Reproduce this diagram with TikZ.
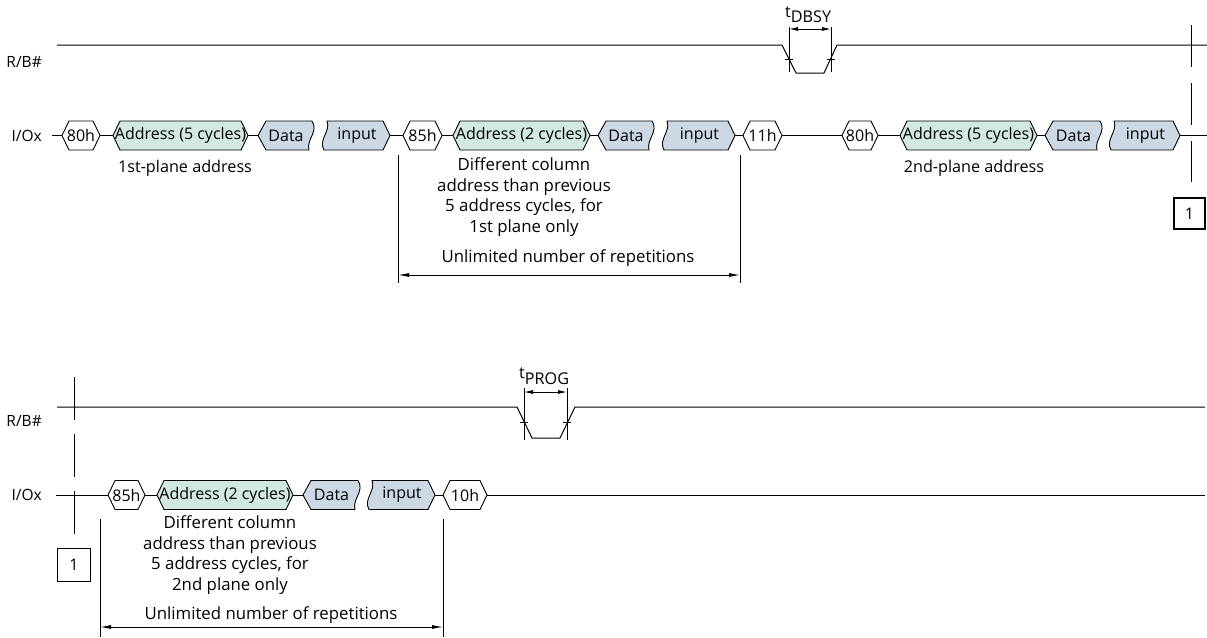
\documentclass[tikz,border=0pt]{standalone}
\usepackage{fontspec}
\setmainfont{Open Sans}
\usetikzlibrary{arrows.meta}
\definecolor{addrfill}{HTML}{D2E8E3}
\definecolor{datafill}{HTML}{CCD8E4}
\tikzset{
  sig/.style={line width=1pt, line join=round},
  shp/.style={draw, line width=0.9pt, line join=round},
  txt/.style={font=\fontsize{16.2}{19}\selectfont, inner sep=0pt},
  sidetxt/.style={font=\fontsize{15.5}{18}\selectfont, inner sep=0pt},
  htxt/.style={font=\fontsize{16}{18}\selectfont, inner sep=0pt},
  note/.style={font=\fontsize{16.8}{20.6}\selectfont, inner sep=0pt, align=center},
  dim/.style={line width=0.9pt, {Latex[length=11pt,width=4pt]}-{Latex[length=11pt,width=4pt]}},
  thin/.style={line width=0.9pt},
  numbox/.style={draw, line width=1.5pt, minimum width=31pt, minimum height=31pt, inner sep=0pt, font=\fontsize{16}{18}\selectfont},
}
% hexagon: name, xl, xr, yc, fill, text
\newcommand\HexBox[6]{%
  \path[shp, fill=#5] (#2,#4) -- (#2+7,#4-14.5) -- (#3-7,#4-14.5) -- (#3,#4) -- (#3-7,#4+14.5) -- (#2+7,#4+14.5) -- cycle;
  \coordinate (#1-w) at (#2,#4);
  \coordinate (#1-e) at (#3,#4);
  \node[htxt] (#1) at ({(#2+#3)/2},#4) {#6};
}
% data box (wavy right edge): name, xl, xr, yc
\newcommand\DataBox[4]{%
  \path[shp, fill=datafill] (#2,#4) -- (#2+8,#4-14.5) -- (#3,#4-14.5) .. controls (#3+7,#4-4) and (#3-6,#4+4) .. (#3-3,#4+14.5) -- (#2+8,#4+14.5) -- cycle;
  \coordinate (#1-w) at (#2,#4);
  \node[htxt] (#1) at ({(#2+#3)/2+1},#4) {Data};
}
% input box (wavy left edge): name, xl, xr, yc
\newcommand\InputBox[4]{%
  \path[shp, fill=datafill] (#2+3,#4-14.5) -- (#3-7,#4-14.5) -- (#3,#4) -- (#3-7,#4+14.5) -- (#2,#4+14.5) .. controls (#2-6,#4+4) and (#2+7,#4-4) .. (#2+3,#4-14.5) -- cycle;
  \coordinate (#1-e) at (#3,#4);
  \node[htxt] (#1) at ({(#2+#3)/2},#4) {input};
}
\begin{document}
\begin{tikzpicture}[x=1pt,y=-1pt]
\useasboundingbox (0,0) rectangle (1207,637);

%================ TOP ================
\node[sidetxt, anchor=east] (rb1) at (42,62) {R/B\#};
\node[sidetxt, anchor=east] (io1) at (42,135.5) {I/Ox};

% R/B# waveform
\coordinate (rbs1) at (57,45);
\coordinate (rbe1) at (1207,45);
\draw[sig] (rbs1) -- (782,45) -- (796,73) -- (824,73) -- (837,45) -- (rbe1);
% tDBSY markers
\draw[thin] (789,27) -- (789,72);
\draw[thin] (831,27) -- (831,72);
\draw[thin] (785,59) -- (793,59);
\draw[thin] (827,59) -- (835,59);
\coordinate (tda) at (789,29);
\coordinate (tdb) at (831,29);
\draw[line width=0.9pt, {Latex[length=9pt,width=4pt]}-{Latex[length=9pt,width=4pt]}] (tda) -- (tdb);
\node[txt, anchor=base west] (tdbsy) at (785,17) {t\raisebox{-5pt}{DBSY}};

% I/Ox boxes
\HexBox{a80}{62}{100}{135.5}{white}{80h}
\HexBox{ad5}{113}{248}{135.5}{addrfill}{Address (5 cycles)}
\DataBox{d1}{258}{312}{135.5}
\InputBox{i1}{324}{390}{135.5}
\HexBox{a85}{403}{442}{135.5}{white}{85h}
\HexBox{ad2}{453}{590}{135.5}{addrfill}{Address (2 cycles)}
\DataBox{d2}{598}{652}{135.5}
\InputBox{i2}{664}{735}{135.5}
\HexBox{a11}{743}{782}{135.5}{white}{11h}
\HexBox{b80}{842}{878}{135.5}{white}{80h}
\HexBox{bd5}{900}{1037}{135.5}{addrfill}{Address (5 cycles)}
\DataBox{d3}{1045}{1100}{135.5}
\InputBox{i3}{1111}{1180}{135.5}
\coordinate (ios1) at (52,135.5);
\coordinate (ioe1) at (1207,135.5);
\draw[sig] (ios1) -- (a80-w);
\draw[sig] (a80-e) -- (ad5-w);
\draw[sig] (ad5-e) -- (d1-w);
\draw[sig] (i1-e) -- (a85-w);
\draw[sig] (a85-e) -- (ad2-w);
\draw[sig] (ad2-e) -- (d2-w);
\draw[sig] (i2-e) -- (a11-w);
\draw[sig] (a11-e) -- (b80-w);
\draw[sig] (b80-e) -- (bd5-w);
\draw[sig] (bd5-e) -- (d3-w);
\draw[sig] (i3-e) -- (ioe1);

\node[txt] (pl1) at (185,168) {1st-plane address};
\node[txt] (pl2) at (974,168) {2nd-plane address};

% repetition bracket
\coordinate (v1t) at (398,155);
\coordinate (v1b) at (398,283);
\coordinate (v2t) at (740,155);
\coordinate (v2b) at (740,283);
\draw[thin] (v1t) -- (v1b);
\draw[thin] (v2t) -- (v2b);
\coordinate (r1a) at (398,275);
\coordinate (r1b) at (740,275);
\draw[dim] (r1a) -- (r1b);
\node[note] (n1) at (524,197) {Different column\\address than previous\\5 address cycles, for\\1st plane only};
\node[note] (u1) at (568,258) {Unlimited number of repetitions};

% continuation marker
\coordinate (c1t) at (1191,25);
\coordinate (c1b) at (1191,182);
\draw[thin, dash pattern=on 42pt off 16pt] (c1t) -- (c1b);
\node[numbox] (box1) at (1189.5,213.5) {1};

%================ BOTTOM ================
\node[sidetxt, anchor=east] (rb2) at (42,421) {R/B\#};
\node[sidetxt, anchor=east] (io2) at (42,495) {I/Ox};

\coordinate (rbs2) at (57,407);
\coordinate (rbe2) at (1205,407);
\draw[sig] (rbs2) -- (517,407) -- (532,438) -- (560,438) -- (575,407) -- (rbe2);
\draw[thin] (524,388) -- (524,440);
\draw[thin] (567,388) -- (567,440);
\draw[thin] (520,422) -- (528,422);
\draw[thin] (563,422) -- (571,422);
\coordinate (tpa) at (524,392);
\coordinate (tpb) at (567,392);
\draw[line width=0.9pt, {Latex[length=9pt,width=4pt]}-{Latex[length=9pt,width=4pt]}] (tpa) -- (tpb);
\node[txt, anchor=base west] (tprog) at (519,378) {t\raisebox{-6pt}{PROG}};

\HexBox{c85}{108}{145}{495}{white}{85h}
\HexBox{cd2}{157}{293}{495}{addrfill}{Address (2 cycles)}
\DataBox{d4}{303}{358}{495}
\InputBox{i4}{369}{435}{495}
\HexBox{c10}{443}{487}{495}{white}{10h}
\coordinate (ios2) at (56,495);
\coordinate (ioe2) at (1205,495);
\draw[sig] (ios2) -- (c85-w);
\draw[sig] (c85-e) -- (cd2-w);
\draw[sig] (cd2-e) -- (d4-w);
\draw[sig] (i4-e) -- (c10-w);
\draw[sig] (c10-e) -- (ioe2);

\coordinate (c2t) at (74,377);
\coordinate (c2b) at (74,535);
\draw[thin, dash pattern=on 43pt off 14pt] (c2t) -- (c2b);
\node[numbox, minimum width=33pt, minimum height=33pt] (box2) at (74,565) {1};

\coordinate (w1t) at (100,519);
\coordinate (w1b) at (100,637);
\coordinate (w2t) at (443,519);
\coordinate (w2b) at (443,637);
\draw[thin] (w1t) -- (w1b);
\draw[thin] (w2t) -- (w2b);
\coordinate (r2a) at (100,627);
\coordinate (r2b) at (443,627);
\draw[dim] (r2a) -- (r2b);
\node[note] (n2) at (230,555) {Different column\\address than previous\\5 address cycles, for\\2nd plane only};
\node[note] (u2) at (271,615) {Unlimited number of repetitions};
\end{tikzpicture}
\end{document}
